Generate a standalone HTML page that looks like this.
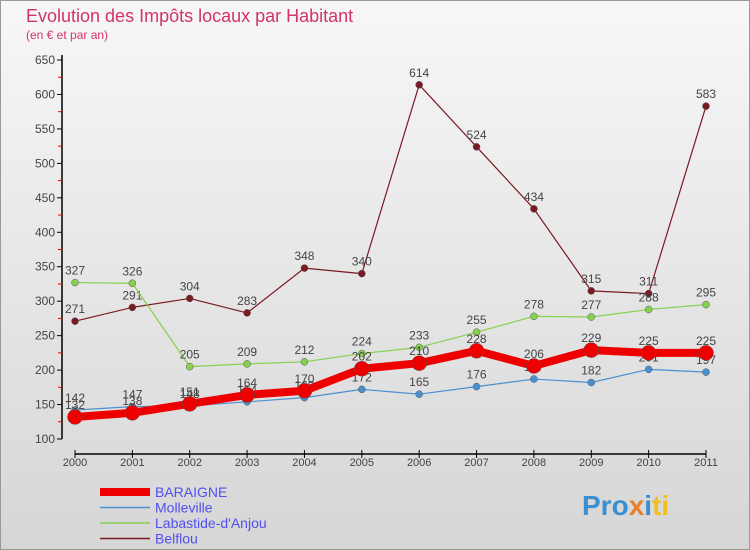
<!DOCTYPE html>
<html><head><meta charset="utf-8"><style>
body{margin:0;width:750px;height:550px;overflow:hidden;font-family:"Liberation Sans",sans-serif}
svg{display:block}
</style></head><body>
<svg id="c" width="750" height="550" xmlns="http://www.w3.org/2000/svg">
<defs><linearGradient id="bg" x1="0" y1="0" x2="0" y2="1"><stop offset="0" stop-color="#f7f7f7"/><stop offset="1" stop-color="#d6d6d6"/></linearGradient></defs>
<rect x="0.5" y="0.5" width="749" height="549" fill="url(#bg)" stroke="#999"/>
<text x="26" y="22" font-size="18" fill="#d33366">Evolution des Impôts locaux par Habitant</text>
<text x="26" y="39" font-size="12" fill="#d33366">(en € et par an)</text>
<g id="axes"></g><g id="series"></g><g id="legend"></g>
<text x="582" y="515" font-size="28" font-weight="bold" fill="#3a8fd0">Pro<tspan fill="#e8802a">x</tspan><tspan fill="#3a8fd0">i</tspan><tspan fill="#f0c020">ti</tspan></text>
</svg>
<script>
const years=[2000,2001,2002,2003,2004,2005,2006,2007,2008,2009,2010,2011];
const yTicks=[100,150,200,250,300,350,400,450,500,550,600,650];
const baraigne=[132,138,151,164,170,202,210,228,206,229,225,225];
const molleville=[142,147,148,154,160,172,165,176,187,182,201,197];
const labastide=[327,326,205,209,212,224,233,255,278,277,288,295];
const belflou=[271,291,304,283,348,340,614,524,434,315,311,583];
const NS="http://www.w3.org/2000/svg";
const X0=75,X1=706,Y0=439,Y1=60,VMIN=100,VMAX=650;
const xs=i=>X0+(X1-X0)*i/(years.length-1);
const ys=v=>Y0-(v-VMIN)*(Y0-Y1)/(VMAX-VMIN);
function mk(t,a,p){const e=document.createElementNS(NS,t);for(const k in a)e.setAttribute(k,a[k]);p.appendChild(e);return e;}
const ax=document.getElementById('axes');
let e=mk('line',{x1:62,y1:Y1-5,x2:62,y2:Y0,stroke:'#000','stroke-width':1.5},ax);


e=mk('line',{x1:X0,y1:454,x2:X1,y2:454,stroke:'#000','stroke-width':1.5},ax);


yTicks.forEach((v,i)=>{
 const y=ys(v);
 mk('line',{x1:57,y1:y,x2:62,y2:y,stroke:'#000'},ax);
 if(i<yTicks.length-1) mk('line',{x1:58,y1:ys(v+25),x2:62,y2:ys(v+25),stroke:'#e00'},ax);
 const t=mk('text',{x:55,y:y+4,'font-size':12,'text-anchor':'end',fill:'#444'},ax);t.textContent=v;
 
 
});
years.forEach((yr,i)=>{
 const x=xs(i);
 mk('line',{x1:x,y1:450,x2:x,y2:458,stroke:'#000'},ax);
 const t=mk('text',{x:x,y:466,'font-size':11,'text-anchor':'middle',fill:'#444'},ax);t.textContent=yr;
 
 
});
const S=[
 {name:'Belflou',d:belflou,c:'#7a1a22',w:1.2,r:3.5},
 {name:'Labastide-d\'Anjou',d:labastide,c:'#88d050',w:1.2,r:3.5},
 {name:'Molleville',d:molleville,c:'#4a90d0',w:1.2,r:3.5},
 {name:'BARAIGNE',d:baraigne,c:'#ee0000',w:8,r:7.5}
];
const sg=document.getElementById('series');
S.forEach(s=>{
 const g=mk('g',{},sg);
 
 
 const p=mk('polyline',{points:s.d.map((v,i)=>xs(i)+','+ys(v)).join(' '),fill:'none',stroke:s.c,'stroke-width':s.w,'stroke-linejoin':'round'},g);
 
 
 s.d.forEach((v,i)=>{
  const c=mk('circle',{cx:xs(i),cy:ys(v),r:s.r,fill:s.c,stroke:'#555','stroke-width':0.5},g);
  
  
  const t=mk('text',{x:xs(i),y:ys(v)-8,'font-size':12,'text-anchor':'middle',fill:'#444'},g);t.textContent=v;
  
  
 });
});
const lg=document.getElementById('legend');
const L=[['BARAIGNE','#ee0000',8],['Molleville','#4a90d0',1.5],['Labastide-d\'Anjou','#88d050',1.5],['Belflou','#7a1a22',1.5]];
L.forEach((l,i)=>{
 const y=492+i*15.5;
 const g=mk('g',{},lg);
 
 
 mk('line',{x1:100,y1:y,x2:150,y2:y,stroke:l[1],'stroke-width':l[2]},g);
 const t=mk('text',{x:155,y:y+5,'font-size':14,fill:'#5050ee'},g);t.textContent=l[0];
});
</script>
</body></html>
